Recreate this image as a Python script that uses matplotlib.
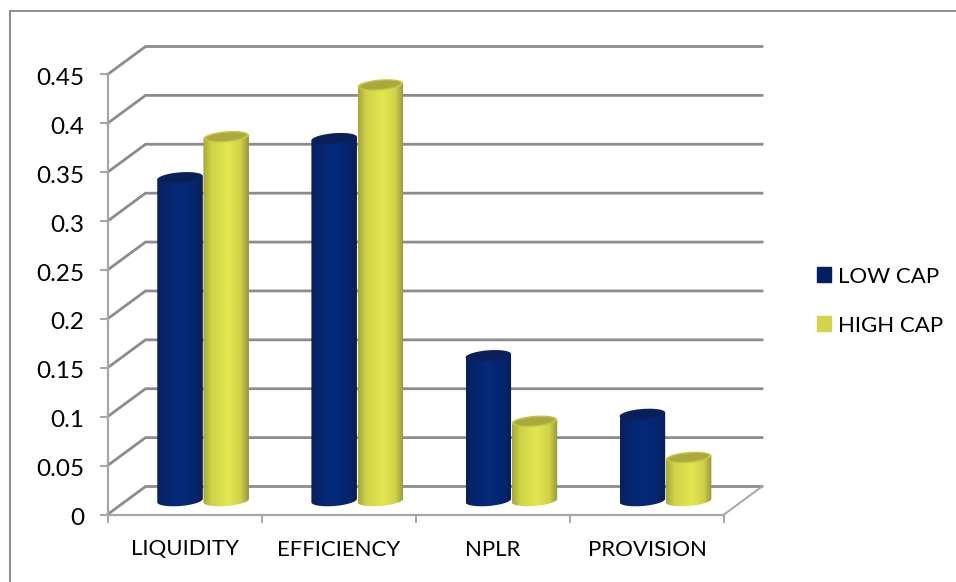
import matplotlib
matplotlib.use("Agg")
import matplotlib.pyplot as plt
import numpy as np
from matplotlib.colors import LinearSegmentedColormap
from matplotlib.patches import Patch, Polygon, Rectangle
from matplotlib.transforms import ScaledTranslation

plt.rcParams["font.family"] = ["Lato", "DejaVu Sans"]

categories = ["LIQUIDITY", "EFFICIENCY", "NPLR", "PROVISION"]
low_cap = [0.33, 0.37, 0.148, 0.088]
high_cap = [0.372, 0.425, 0.081, 0.044]
series_names = ["LOW CAP", "HIGH CAP"]
y_ticks = [0, 0.05, 0.1, 0.15, 0.2, 0.25, 0.3, 0.35, 0.4, 0.45]
y_labels = ["0", "0.05", "0.1", "0.15", "0.2", "0.25", "0.3", "0.35", "0.4", "0.45"]

W, H = 956, 582
GRID = "#8c8c8c"
AXIS = "#a6a6a6"
# floor depth, in data units
DEPTH_X = 38 / 154
DEPTH_Y = 28 / 978
BAR_W = 45.5 / 154
ELL_H = 11 / 978
TILT = 3.5 / 978

blue_map = LinearSegmentedColormap.from_list(
    "blue", [(0, "#0b1f58"), (0.15, "#07246c"), (0.5, "#042a7a"), (0.85, "#05246c"), (1, "#0b1d52")])
yellow_map = LinearSegmentedColormap.from_list(
    "yellow", [(0, "#a5a63c"), (0.18, "#d0d249"), (0.55, "#e4e650"), (0.82, "#d0d148"), (1, "#96963a")])
rim_colors = ["#0a2263", "#c4c548"]
cap_colors = ["#0a1e58", "#a9a93c"]


def ellipse_points(xc, yc, width, height, start=0.0, stop=2 * np.pi):
    # the ellipse leans up to the right, as the base does in this projection
    t = np.linspace(start, stop, 80)
    x = np.cos(t)
    return np.column_stack([xc + width / 2 * x, yc + height / 2 * np.sin(t) + TILT / 2 * x])


def draw_cylinder(ax, xc, value, cmap, rim, cap, order):
    x0 = xc - BAR_W / 2
    x1 = xc + BAR_W / 2
    y0 = DEPTH_Y / 2
    y1 = y0 + value
    shade = np.linspace(0, 1, 128).reshape(1, -1)
    im = ax.imshow(shade, cmap=cmap, extent=(x0, x1, y0 - ELL_H, y1 + ELL_H), aspect="auto",
                   zorder=order, interpolation="bilinear")
    lower = ellipse_points(xc, y0, BAR_W, ELL_H, np.pi, 2 * np.pi)
    outline = np.vstack([lower, [[x1, y1 + TILT / 2], [x0, y1 - TILT / 2]]])
    body = Polygon(outline, closed=True, transform=ax.transData)
    im.set_clip_path(body)
    ax.add_patch(Polygon(ellipse_points(xc, y1, BAR_W, ELL_H), facecolor=rim, edgecolor="none",
                         zorder=order + 0.1, clip_on=False))
    ax.add_patch(Polygon(ellipse_points(xc, y1, BAR_W * 0.88, ELL_H * 0.72), facecolor=cap, edgecolor="none",
                         zorder=order + 0.2, clip_on=False))


fig = plt.figure(figsize=(W / 100, H / 100), dpi=100)
ax = fig.add_axes([107.5 / W, 1 - 514.5 / H, 616.5 / W, 440 / H])
ax.patch.set_visible(False)

# back wall gridlines and the side wall edges
for v in y_ticks:
    ax.plot([0, DEPTH_X, 4 + DEPTH_X], [v, v + DEPTH_Y, v + DEPTH_Y], color=GRID, lw=2.0,
            clip_on=False, zorder=1, solid_joinstyle="miter")
ax.plot([4, 4 + DEPTH_X], [0, DEPTH_Y], color=AXIS, lw=1.4, clip_on=False, zorder=1)

for i in range(len(categories)):
    center = i + 0.5 + DEPTH_X / 2 - 0.003
    draw_cylinder(ax, center - BAR_W / 2 - 0.002, low_cap[i], blue_map, rim_colors[0], cap_colors[0], 3)
    draw_cylinder(ax, center + BAR_W / 2 + 0.002, high_cap[i], yellow_map, rim_colors[1], cap_colors[1], 4)

ax.set_xlim(0, 4)
ax.set_ylim(0, 0.45)

for side in ["top", "right"]:
    ax.spines[side].set_visible(False)
for side in ["left", "bottom"]:
    ax.spines[side].set_color(AXIS)
    ax.spines[side].set_linewidth(1.6)

ax.set_yticks(y_ticks, y_labels)
ax.set_xticks(range(5), [""] * 5)
ax.set_xticks([i + 0.5 for i in range(4)], categories, minor=True)
ax.tick_params(axis="both", which="major", color=AXIS, width=1.4, length=6)
ax.tick_params(axis="x", which="minor", length=0, labelsize=16, pad=18)
ax.tick_params(axis="y", labelsize=17.5, pad=11)
nudge = ScaledTranslation(0, -2 / 100, fig.dpi_scale_trans)
for label in ax.get_yticklabels():
    label.set_transform(label.get_transform() + nudge)

handles = [Patch(color="#02205f", label=series_names[0]), Patch(color="#d3d44c", label=series_names[1])]
fig.legend(handles=handles, loc="upper left", bbox_to_anchor=(810 / W, 1 - 260 / H), frameon=False,
           fontsize=16, handlelength=0.66, handleheight=0.66, handletextpad=0.28, labelspacing=1.3,
           borderaxespad=0, borderpad=0.3)

# chart area outline
fig.add_artist(Rectangle((10 / W, -0.02), 1.1, 1 - 11 / H + 0.02, transform=fig.transFigure,
                         facecolor="none", edgecolor="#8c8c8c", lw=1.4))

fig.savefig("out.png", dpi=100)
